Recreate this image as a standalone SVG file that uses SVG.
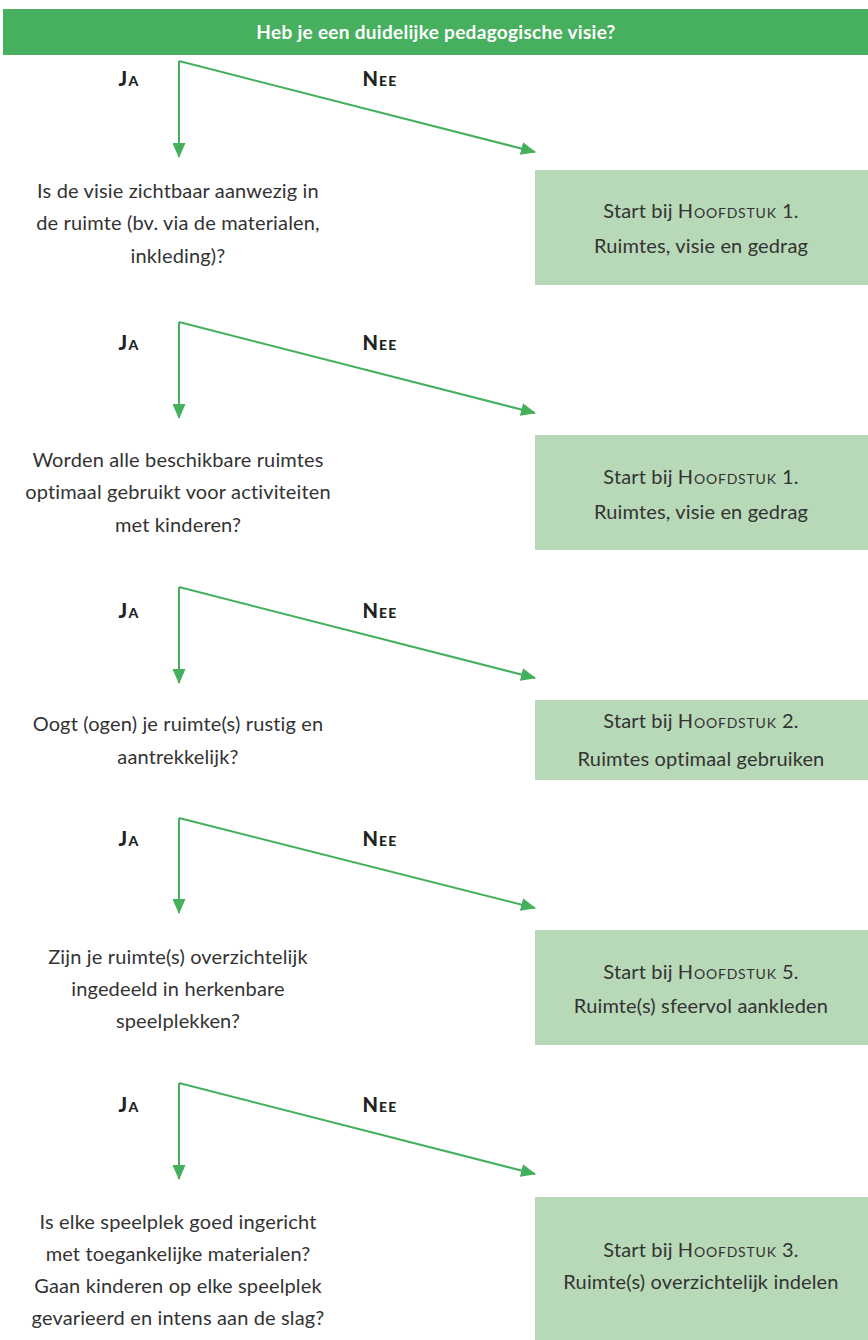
<svg xmlns="http://www.w3.org/2000/svg" width="868" height="1340" viewBox="0 0 868 1340">
<defs>
<marker id="ah" viewBox="0 0 15 13" refX="14" refY="6.5" markerWidth="15" markerHeight="13" markerUnits="userSpaceOnUse" orient="auto">
<path d="M0,0 L15,6.5 L0,13 Z" fill="#44b05c"/>
</marker>
<style>
.q{font-family:Lato,"Open Sans",sans-serif;font-size:20px;letter-spacing:0.15px;fill:#333;text-anchor:middle}
.b{font-family:Lato,"Open Sans",sans-serif;font-size:20px;letter-spacing:0.15px;fill:#333;text-anchor:middle}
.sc{font-variant:small-caps;letter-spacing:0.8px}
.lab{font-family:Lato,"Open Sans",sans-serif;font-size:20px;letter-spacing:1.2px;font-weight:900;fill:#222;text-anchor:middle;font-variant:small-caps}
.box{fill:#b8d9b8}
.ln{stroke:#44b05c;stroke-width:2;fill:none;marker-end:url(#ah)}
</style>
</defs>
<g id="header">
<rect x="3" y="9" width="865" height="46" fill="#46b05e"/>
<text x="436" y="39" font-family="Lato,'Open Sans',sans-serif" font-size="19" letter-spacing="0.3" font-weight="bold" fill="#fff" text-anchor="middle">Heb je een duidelijke pedagogische visie?</text>
</g>
<g id="connectors">
<path class="ln" d="M179,61 V157"/><path class="ln" d="M179,61 L535,152"/>
<path class="ln" d="M179,322 V418"/><path class="ln" d="M179,322 L535,413"/>
<path class="ln" d="M179,587 V683"/><path class="ln" d="M179,587 L535,678"/>
<path class="ln" d="M179,818 V913"/><path class="ln" d="M179,818 L535,908"/>
<path class="ln" d="M179,1083 V1179"/><path class="ln" d="M179,1083 L535,1174"/>
<text class="lab" x="129" y="86">Ja</text><text class="lab" x="380" y="86">Nee</text>
<text class="lab" x="129" y="350">Ja</text><text class="lab" x="380" y="350">Nee</text>
<text class="lab" x="129" y="618">Ja</text><text class="lab" x="380" y="618">Nee</text>
<text class="lab" x="129" y="846">Ja</text><text class="lab" x="380" y="846">Nee</text>
<text class="lab" x="129" y="1112">Ja</text><text class="lab" x="380" y="1112">Nee</text>
</g>
<g id="q1">
<text class="q" x="178" y="198">Is de visie zichtbaar aanwezig in</text>
<text class="q" x="178" y="230">de ruimte (bv. via de materialen,</text>
<text class="q" x="178" y="263">inkleding)?</text>
</g>
<g id="a1">
<rect class="box" x="535" y="170" width="333" height="115"/>
<text class="b" x="701" y="218">Start bij <tspan class="sc">Hoofdstuk</tspan> 1.</text>
<text class="b" x="701" y="253">Ruimtes, visie en gedrag</text>
</g>
<g id="q2">
<text class="q" x="178" y="467">Worden alle beschikbare ruimtes</text>
<text class="q" x="178" y="499">optimaal gebruikt voor activiteiten</text>
<text class="q" x="178" y="532">met kinderen?</text>
</g>
<g id="a2">
<rect class="box" x="535" y="435" width="333" height="115"/>
<text class="b" x="701" y="484">Start bij <tspan class="sc">Hoofdstuk</tspan> 1.</text>
<text class="b" x="701" y="519">Ruimtes, visie en gedrag</text>
</g>
<g id="q3">
<text class="q" x="178" y="731">Oogt (ogen) je ruimte(s) rustig en</text>
<text class="q" x="178" y="764">aantrekkelijk?</text>
</g>
<g id="a3">
<rect class="box" x="535" y="700" width="333" height="80"/>
<text class="b" x="701" y="728">Start bij <tspan class="sc">Hoofdstuk</tspan> 2.</text>
<text class="b" x="701" y="766">Ruimtes optimaal gebruiken</text>
</g>
<g id="q4">
<text class="q" x="178" y="964">Zijn je ruimte(s) overzichtelijk</text>
<text class="q" x="178" y="996">ingedeeld in herkenbare</text>
<text class="q" x="178" y="1028">speelplekken?</text>
</g>
<g id="a4">
<rect class="box" x="535" y="930" width="333" height="115"/>
<text class="b" x="701" y="979">Start bij <tspan class="sc">Hoofdstuk</tspan> 5.</text>
<text class="b" x="701" y="1013">Ruimte(s) sfeervol aankleden</text>
</g>
<g id="q5">
<text class="q" x="178" y="1229">Is elke speelplek goed ingericht</text>
<text class="q" x="178" y="1261">met toegankelijke materialen?</text>
<text class="q" x="178" y="1293">Gaan kinderen op elke speelplek</text>
<text class="q" x="178" y="1325">gevarieerd en intens aan de slag?</text>
</g>
<g id="a5">
<rect class="box" x="535" y="1197" width="333" height="143"/>
<text class="b" x="701" y="1257">Start bij <tspan class="sc">Hoofdstuk</tspan> 3.</text>
<text class="b" x="701" y="1289">Ruimte(s) overzichtelijk indelen</text>
</g>
</svg>
